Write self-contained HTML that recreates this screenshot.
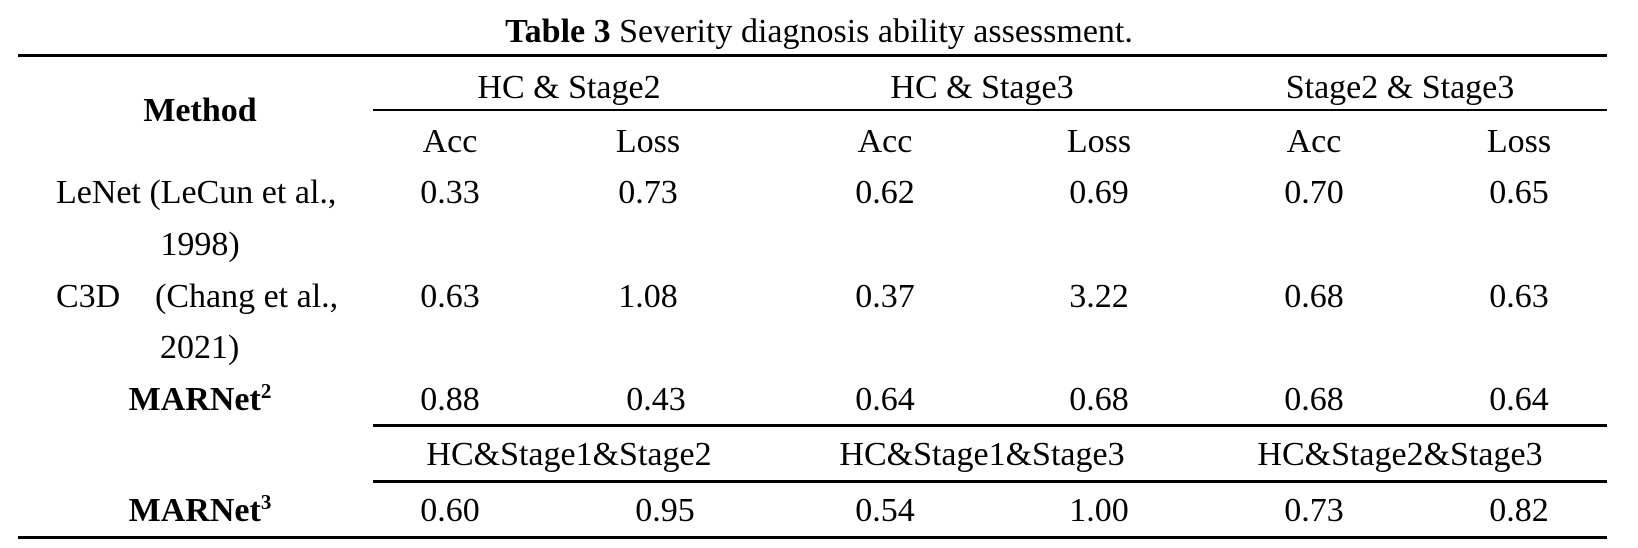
<!DOCTYPE html>
<html><head><meta charset="utf-8"><style>
html,body{margin:0;padding:0;background:#fff;}
svg{display:block;font-family:"Liberation Serif","Times New Roman",serif;}
text{fill:#000;font-size:34px;}
.b{font-weight:bold;}
</style></head><body>
<svg width="1638" height="548" viewBox="0 0 1638 548">
<text x="819" y="42" text-anchor="middle"><tspan class="b">Table 3</tspan> Severity diagnosis ability assessment.</text>
<rect x="18" y="54" width="1589" height="3" fill="#000"/>
<text x="200" y="121" text-anchor="middle" class="b">Method</text>
<text x="569" y="98" text-anchor="middle">HC &amp; Stage2</text>
<text x="982" y="98" text-anchor="middle">HC &amp; Stage3</text>
<text x="1400" y="98" text-anchor="middle">Stage2 &amp; Stage3</text>
<rect x="373" y="109" width="1234" height="2" fill="#000"/>
<g text-anchor="middle">
<text x="450" y="152">Acc</text><text x="648" y="152">Loss</text>
<text x="885" y="152">Acc</text><text x="1099" y="152">Loss</text>
<text x="1314" y="152">Acc</text><text x="1519" y="152">Loss</text>
</g>
<text x="56" y="203">LeNet (LeCun et al.,</text>
<text x="200" y="255" text-anchor="middle">1998)</text>
<g text-anchor="middle">
<text x="450" y="203">0.33</text><text x="648" y="203">0.73</text>
<text x="885" y="203">0.62</text><text x="1099" y="203">0.69</text>
<text x="1314" y="203">0.70</text><text x="1519" y="203">0.65</text>
</g>
<text x="56" y="307">C3D</text>
<text x="155" y="307">(Chang et al.,</text>
<text x="160" y="358">2021)</text>
<g text-anchor="middle">
<text x="450" y="307">0.63</text><text x="648" y="307">1.08</text>
<text x="885" y="307">0.37</text><text x="1099" y="307">3.22</text>
<text x="1314" y="307">0.68</text><text x="1519" y="307">0.63</text>
</g>
<text x="200" y="410" text-anchor="middle" class="b">MARNet<tspan font-size="21" dy="-12">2</tspan></text>
<g text-anchor="middle">
<text x="450" y="410">0.88</text><text x="656" y="410">0.43</text>
<text x="885" y="410">0.64</text><text x="1099" y="410">0.68</text>
<text x="1314" y="410">0.68</text><text x="1519" y="410">0.64</text>
</g>
<rect x="373" y="424" width="1234" height="3" fill="#000"/>
<g text-anchor="middle">
<text x="569" y="465">HC&amp;Stage1&amp;Stage2</text>
<text x="982" y="465">HC&amp;Stage1&amp;Stage3</text>
<text x="1400" y="465">HC&amp;Stage2&amp;Stage3</text>
</g>
<rect x="373" y="480" width="1234" height="3" fill="#000"/>
<text x="200" y="521" text-anchor="middle" class="b">MARNet<tspan font-size="21" dy="-12">3</tspan></text>
<g text-anchor="middle">
<text x="450" y="521">0.60</text><text x="665" y="521">0.95</text>
<text x="885" y="521">0.54</text><text x="1099" y="521">1.00</text>
<text x="1314" y="521">0.73</text><text x="1519" y="521">0.82</text>
</g>
<rect x="18" y="536" width="1589" height="3" fill="#000"/>
</svg>
</body></html>
